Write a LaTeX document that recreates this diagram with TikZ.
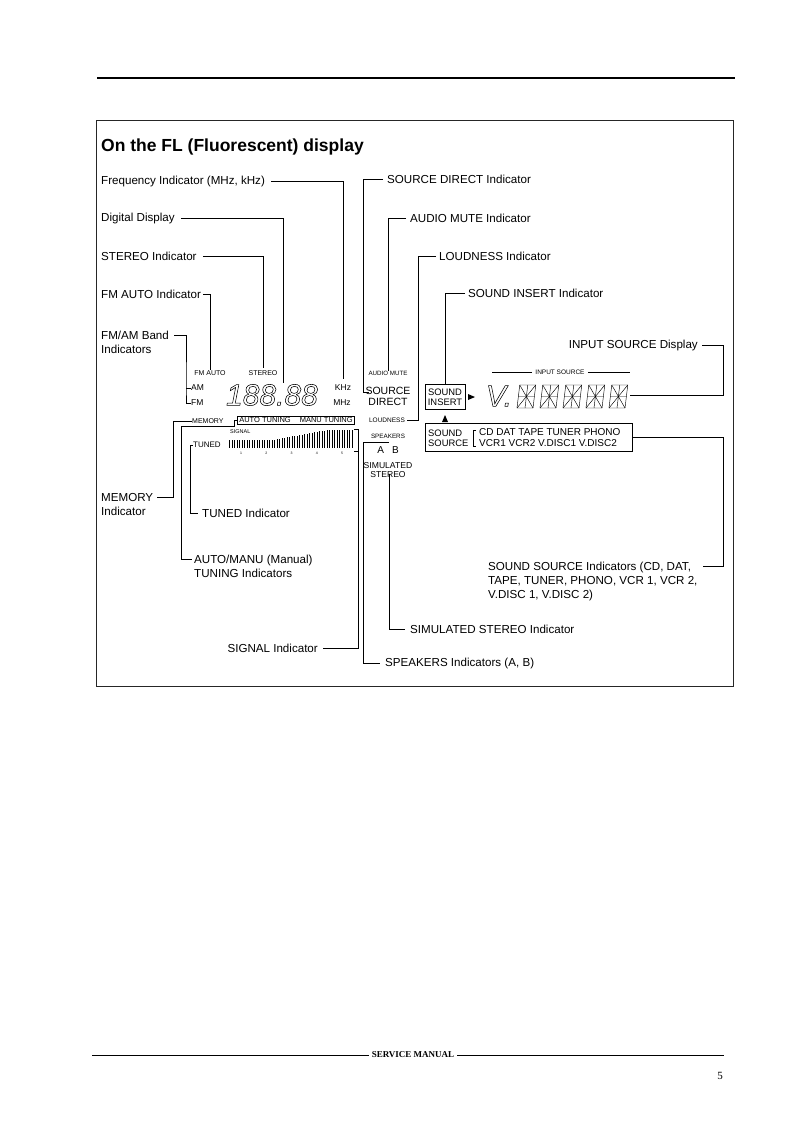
\documentclass[tikz,border=0pt]{standalone}
\usepackage{fontspec}
\setmainfont{Liberation Sans}
\newfontfamily\manualfont{Liberation Serif}
\usetikzlibrary{positioning, calc}

% outlined (hollow) glyphs for the fluorescent segments
\newcommand{\hollow}[1]{\special{pdf:literal direct 1 Tr 0.55 w}#1\special{pdf:literal direct 0 Tr}}

\begin{document}
\begin{tikzpicture}[
    x=1pt, y=-1pt,
    lbl/.style={anchor=west, inner sep=0pt, font=\fontsize{11.6}{14}\selectfont},
    lbltwo/.style={anchor=north west, inner sep=0pt, align=left, font=\fontsize{11.6}{14}\selectfont},
    lead/.style={draw, line width=0.8pt},
    flt/.style={inner sep=0pt, font=\fontsize{#1}{#1}\selectfont},
    flbox/.style={draw, line width=0.6pt, inner sep=0pt, align=center}
]
    \fill[white] (0,0) rectangle (793,1122);

    % ================= PAGE =================
    \draw[line width=1.6pt] (97,78) -- (735,78);
    \draw[line width=0.8pt, black!85] (96,120) rectangle (733,686);
    \node[anchor=west, inner sep=0pt, font=\bfseries\fontsize{17.5}{20}\selectfont] (title) at (101,147) {On the FL (Fluorescent) display};

    % ================= LABELS LEFT =================
    \node[lbl] (freqind) at (101,181) {Frequency Indicator (MHz, kHz)};
    \node[lbl] (digitind) at (101,218) {Digital Display};
    \node[lbl] (stereoind) at (101,256) {STEREO Indicator};
    \node[lbl] (fmautoind) at (101,294) {FM AUTO Indicator};
    \node[lbltwo] (bandind) at (101,331) {FM/AM Band\\Indicators};
    \node[lbltwo] (memoryind) at (101,493) {MEMORY\\Indicator};
    \node[lbl] (tunedind) at (202,513) {TUNED Indicator};
    \node[lbltwo] (tuningind) at (194,555) {AUTO/MANU (Manual)\\TUNING Indicators};
    \node[lbl, anchor=east] (signalind) at (318,648) {SIGNAL Indicator};

    % ================= LABELS RIGHT =================
    \node[lbl] (srcdirind) at (387,179) {SOURCE DIRECT Indicator};
    \node[lbl] (muteind) at (410,218) {AUDIO MUTE Indicator};
    \node[lbl] (loudind) at (439,256) {LOUDNESS Indicator};
    \node[lbl] (insertind) at (468,293) {SOUND INSERT Indicator};
    \node[lbl, anchor=east] (inputind) at (698,345) {INPUT SOURCE Display};
    \node[lbltwo] (sourceind) at (488,562) {SOUND SOURCE Indicators (CD, DAT,\\TAPE, TUNER, PHONO, VCR 1, VCR 2,\\V.DISC 1, V.DISC 2)};
    \node[lbl] (simind) at (410,629) {SIMULATED STEREO Indicator};
    \node[lbl] (spkind) at (385,663) {SPEAKERS Indicators (A, B)};

    % ================= FL DISPLAY : TUNER =================
    \node[flt=7] (fmautotxt) at (210,373) {FM AUTO};
    \node[flt=7] (stereotxt) at (263,373) {STEREO};
    \node[flt=8.5, anchor=west] (amtxt) at (191,388) {AM};
    \node[flt=8.5, anchor=west] (fmtxt) at (191,403) {FM};
    \node[inner sep=0pt, font=\itshape\fontsize{30}{30}\selectfont] (freqdigits) at (272,395) {\hollow{188.88}};
    \node[flt=8.5] (khztxt) at (343,388) {KHz};
    \node[flt=8.5] (mhztxt) at (342,403) {MHz};
    \node[flt=7, anchor=west] (memtxt) at (192,421) {MEMORY};
    \node[flbox, inner xsep=2pt, inner ysep=1.5pt, font=\fontsize{7.5}{7.5}\selectfont] (tunebox) at (296,420) {AUTO TUNING\hspace{9pt}MANU TUNING};
    \node[flt=5.5, anchor=west] (sigtxt) at (230,432) {SIGNAL};
    \node[flt=8, anchor=west] (tunedtxt) at (193,445) {TUNED};
    \foreach \i in {0,...,49}{
        \pgfmathsetmacro\h{8+10*min(1,max(0,(\i/49-0.35)/0.45))}
        \fill (229+2.5*\i,448) rectangle ++(1.4,-\h);
    }
    \foreach \n in {1,...,5}
        \node[flt=3.5] (sig\n) at ({241+25.3*(\n-1)},453) {\n};
    \coordinate (barend) at (354,429);

    % ================= FL DISPLAY : CENTRE =================
    \node[flt=6.2] (mutetxt) at (388,373) {AUDIO MUTE};
    \node[inner sep=0pt, align=center, font=\fontsize{10.5}{11}\selectfont] (srcdirtxt) at (388,396) {SOURCE\\DIRECT};
    \node[flt=6.5] (loudtxt) at (387,420) {LOUDNESS};
    \node[flt=6.3] (spktxt) at (388,436) {SPEAKERS};
    \node[flt=10] (abtxt) at (388,450) {A\hspace{8pt}B};
    \node[inner sep=0pt, align=center, font=\fontsize{8.6}{9}\selectfont] (simtxt) at (388,470) {SIMULATED\\STEREO};

    % ================= FL DISPLAY : INPUT =================
    \node[flbox, minimum width=40, minimum height=25, font=\fontsize{9.4}{10}\selectfont] (insbox) at (445,397) {SOUND\\INSERT};
    \fill (468,394) -- (475,397) -- (468,400) -- cycle;
    \fill (442,422) -- (445,415) -- (448,422) -- cycle;
    \node[flbox, minimum width=207, minimum height=28] (srcbox) at (528.5,437) {};
    \node[inner sep=0pt, anchor=west, align=left, font=\fontsize{9.4}{10}\selectfont] (srctxt) at (428,438) {SOUND\\SOURCE};
    \node[inner sep=0pt, anchor=west, align=left, font=\fontsize{10}{11}\selectfont] (srclist) at (479,438) {CD DAT TAPE TUNER PHONO\\VCR1 VCR2 V.DISC1 V.DISC2};
    \draw[line width=0.5pt] (476,430) -- (473,430) -- (473,446) -- (476,446);
    \node[flt=6.5] (inputtxt) at (560,372) {INPUT SOURCE};
    \draw[line width=0.4pt] ([xshift=-3pt]inputtxt.west) -- (492,372);
    \draw[line width=0.4pt] ([xshift=3pt]inputtxt.east) -- (630,372);
    \node[inner sep=0pt, font=\itshape\fontsize{30}{30}\selectfont] (vchar) at (499,396) {\hollow{V.}};
    \foreach \i in {0,...,4}{
        \begin{scope}[shift={(517+23*\i,408)}, xslant=0.12, line width=0.45pt, double, double distance=0.7pt]
            \draw (0,0) rectangle (16,-23);
            \draw (0,-11.5) -- (16,-11.5) (8,0) -- (8,-23);
            \draw (0,0) -- (8,-11.5) -- (16,0) (0,-23) -- (8,-11.5) -- (16,-23);
        \end{scope}
    }
    \coordinate (segend) at (630,395);

    % ================= LEADERS =================
    \coordinate (digtip) at (283,383);
    \coordinate (bandbus) at (186,388);
    \coordinate (memx) at (173,421);
    \coordinate (tunebus) at (181,426);
    \coordinate (srcdirtip) at (363,392);
    \coordinate (loudtip) at (418,420);
    \coordinate (inputbus) at (723,395);
    \coordinate (srcbus) at (723,566);
    \coordinate (simtip) at (389,474);
    \coordinate (spktip) at (389,442);
    \coordinate (spkbus) at (363,442);

    \draw[lead] ([xshift=6pt]freqind.east) -| ([yshift=6pt]khztxt.north);
    \draw[lead] ([xshift=6pt]digitind.east) -| (digtip);
    \draw[lead] ([xshift=6pt]stereoind.east) -| ([yshift=2pt]stereotxt.north);
    \draw[lead] ([xshift=2pt]fmautoind.east) -| (fmautotxt.north);
    \draw[lead] ([xshift=5pt,yshift=-4.2pt]bandind.north east) -| (bandbus) |- (fmtxt.west);
    \draw[lead] (bandbus) -- (amtxt.west);
    \draw[lead] ([xshift=4pt,yshift=-4.2pt]memoryind.north east) -| (memx) -- (memtxt.west);
    \draw[lead] (tunebox.west) -- ++(-3pt,0) |- (tunebus) |- ([xshift=-2pt,yshift=-4.2pt]tuningind.north west);
    \draw[lead] (tunedtxt.west) -- ++(-3pt,0) |- ([xshift=-4pt]tunedind.west);
    \draw[lead] (barend) -- ++(4pt,0) |- ([xshift=5pt]signalind.east);
    \draw[lead] ([yshift=-22pt]barend) -- ++(4pt,0);

    \draw[lead] ([xshift=-4pt]srcdirind.west) -| (srcdirtip) -- ++(6pt,0);
    \draw[lead] ([xshift=-4pt]muteind.west) -| (mutetxt.north);
    \draw[lead] ([xshift=-3pt]loudind.west) -| (loudtip) -- ([xshift=2pt]loudtxt.east);
    \draw[lead] ([xshift=-3pt]insertind.west) -| (insbox.north);
    \draw[lead] ([xshift=4pt]inputind.east) -| (inputbus) -- (segend);
    \draw[lead] (srcbox.east) -| (srcbus) -- ($(srcbus -| sourceind.east)+(5pt,0)$);
    \draw[lead] (simtip) |- ([xshift=-5pt]simind.west);
    \draw[lead] (spktip) -- (spkbus) |- ([xshift=-5pt]spkind.west);

    % ================= FOOTER =================
    \node[inner sep=0pt, font=\manualfont\bfseries\fontsize{9}{9}\selectfont] (svc) at (413,1055) {SERVICE MANUAL};
    \draw[line width=1pt] ([xshift=-3pt]svc.west) -- (92,1055);
    \draw[line width=1pt] ([xshift=3pt]svc.east) -- (724,1055);
    \node[inner sep=0pt, font=\manualfont\fontsize{11}{11}\selectfont] (pagenum) at (720,1076) {5};
\end{tikzpicture}
\end{document}
